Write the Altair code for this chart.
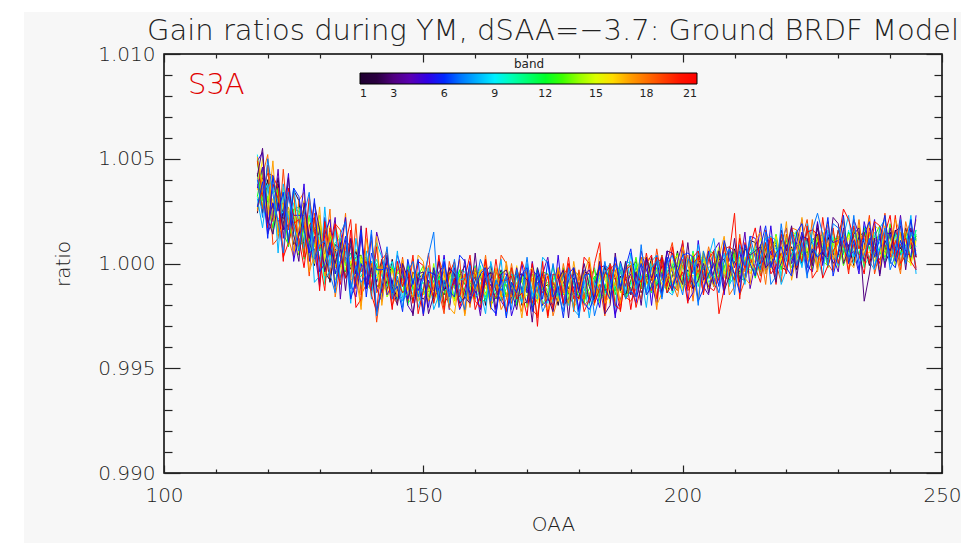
import altair as alt
import pandas as pd

# ---------------- data ----------------
title_text = ["Gain ratios during YM, dSAA=\u22123.7: Ground BRDF Model"]
sat_label = ["S3A"]

oaa = [118, 119, 120, 121, 122, 123, 124, 125, 126, 127, 128, 129, 130, 131, 132, 133,
       134, 135, 136, 137, 138, 139, 140, 141, 142, 143, 144, 145, 146, 147, 148, 149,
       150, 151, 152, 153, 154, 155, 156, 157, 158, 159, 160, 161, 162, 163, 164, 165,
       166, 167, 168, 169, 170, 171, 172, 173, 174, 175, 176, 177, 178, 179, 180, 181,
       182, 183, 184, 185, 186, 187, 188, 189, 190, 191, 192, 193, 194, 195, 196, 197,
       198, 199, 200, 201, 202, 203, 204, 205, 206, 207, 208, 209, 210, 211, 212, 213,
       214, 215, 216, 217, 218, 219, 220, 221, 222, 223, 224, 225, 226, 227, 228, 229,
       230, 231, 232, 233, 234, 235, 236, 237, 238, 239, 240, 241, 242, 243, 244, 245]

# gain ratio per band, given as (ratio - 1) in units of 1e-4
b01 = [43,24,40,26,41,19,25,9, 13,27,11,-1,18,9,-9,9, 7,-7,-2,6,-4,2,-1,-11, -10,-13,2,-13,-7,-5,-18,-7,
       -5,-11,-17,-6,-8,-21,-4,-10, -13,-18,-8,-5,-20,-4,-11,-3, -11,-15,-4,-20,-18,-2,-14,-5, -16,-9,-20,-5,-12,-7,-17,-4,
       -5,-11,-14,-1,-15,-12,-6,-15, -8,-2,-14,-9,3,-11,-1,-4, -2,-1,-8,-6,-12,4,-3,5, -11,2,2,-6,7,-2,-3,11,
       10,-2,3,7,10,-2,-3,8, -3,8,5,11,14,0,13,4, 16,5,9,-1,13,15,7,4, 2,6,15,8,4,17,7,13]
b02 = [24,41,37,21,38,22,17,35, 30,8,12,16,17,-4,-8,7, -7,3,-1,3,4,-11,1,-9, 2,-10,-8,-18,-5,-3,-12,-15,
       -17,-13,-4,-11,-15,-2,-12,-6, -1,-12,-6,-16,-14,-10,-17,-5, -16,-11,-6,-5,-7,-21,-17,-12, -10,-17,-3,-9,-14,-20,-6,-12,
       -17,-8,-1,-14,-9,-7,-13,-16, -2,1,-12,-6,-8,-6,4,-14, -6,6,-10,-3,-11,0,4,-7, 0,7,-6,-8,1,-4,9,-1,
       -5,9,3,12,8,0,7,4, 10,0,12,5,17,4,9,0, 4,15,7,1,15,10,-1,12, 13,0,6,16,7,14,12,3]
b03 = [42,55,21,14,29,16,41,14, 1,29,12,29,16,-4,8,0, 10,-13,12,-5,18,-12,-2,-23, -12,4,-11,-20,0,-7,-25,-5,
       -4,-24,-15,1,-13,-2,-5,-19, -16,-19,5,-18,-7,-4,-22,-5, -3,-13,-22,-5,-8,-28,-2,-11, -16,-23,-8,-3,-26,-2,-13,0,
       -11,-17,1,-24,-20,5,-13,1, -15,-4,-20,3,-7,1,-14,6, 5,-4,-10,10,-12,-8,0,-14, -4,6,-13,-6,12,-9,7,4,
       6,8,-2,1,-9,16,6,18, -7,13,12,-1,19,5,2,22, 19,0,7,14,17,-18,-5,12, -6,11,6,15,18,-3,17,3]
b04 = [36,46,14,22,45,12,32,23, 23,23,5,7,-11,22,6,22, -17,11,8,-12,13,-7,-13,15, 5,-15,-10,-3,-1,-20,-24,-7,
       -25,-8,-13,-4,-1,-22,-2,-16, 2,-15,-10,-25,-4,-1,-13,-18, -22,-16,-2,-13,-19,1,-14,-5, 3,-14,-5,-20,-17,-11,-22,-3,
       -19,-11,-2,-1,-3,-24,-17,-10, -5,-16,6,-3,-10,-19,3,-7, -13,1,10,-10,-3,0,-11,-15, 6,10,-10,-1,-5,-2,15,-12,
       0,18,-5,6,-7,10,17,0, 10,21,-1,-4,10,2,20,3, -4,17,7,21,14,1,11,6, 14,-2,17,6,23,3,11,-3]
b05 = [49,53,19,29,20,23,43,1, 15,38,1,13,-9,14,21,-5, 7,22,-10,-16,0,-12,14,-12, -18,2,-10,4,-4,-17,-8,-13,
       -5,-21,-2,-13,4,-16,-8,-22, -16,1,-13,-22,-1,-8,-25,-5, -5,-25,-16,0,-14,-3,-6,-20, -17,-20,4,-19,-8,-5,-23,-6,
       -3,-13,-21,-4,-6,-26,1,-8, -12,-19,-3,2,-20,4,-7,6, -4,-10,7,-18,-14,11,-8,6, -10,1,-15,8,-2,6,-8,13,
       12,3,-2,18,-4,0,9,-5, 5,15,-5,2,20,-1,14,10, 11,13,3,6,-5,20,9,21, -5,15,14,1,20,6,3,23]
b06 = [27,39,12,42,25,34,10,36, 32,16,5,31,-4,0,10,-11, 1,13,-17,-8,16,-16,5,-3, -3,-2,-14,-11,-23,2,-10,2,
       -24,-4,-5,-18,1,-13,-16,4, 1,-18,-12,-5,-2,-21,-24,-7, -26,-9,-14,-5,-2,-23,-3,-17, 1,-16,-11,-26,-5,-2,-14,-19,
       -22,-16,-1,-12,-17,3,-11,-2, 7,-10,0,-15,-11,-5,-16,3, -12,-4,4,5,3,-18,-12,-5, 0,-11,11,2,-5,-14,9,0,
       -6,8,18,-2,5,8,-2,-6, 15,19,-2,7,3,6,22,-6, 5,23,0,11,-3,14,20,3, 12,23,1,-2,11,3,21,4]
b07 = [40,22,50,33,20,5,34,19, 6,23,34,2,9,11,-5,-14, 14,20,-12,-1,-9,-5,16,-25, -9,8,-17,-6,-21,-4,1,-16,
       -7,4,15,-21,-8,-16,2,-15, -22,-1,-12,2,-5,-18,-8,-13, -6,-22,-3,-14,3,-17,-9,-23, -17,0,-14,-23,-2,-9,-26,-6,
       -5,-25,-15,1,-12,-1,-3,-17, -13,-16,9,-14,-2,1,-17,0, 4,-6,-15,2,0,-20,6,-3, -7,-14,2,7,-15,9,-1,13,
       3,-3,15,-10,-6,19,1,15, -1,10,-7,16,24,14,-1,19, 17,8,3,23,0,4,12,-2, 7,17,-3,4,21,0,15,11]
b08 = [31,17,36,40,5,38,21,36, 19,7,29,-9,-6,27,-1,17, -8,6,-19,12,-4,6,-17,10, 3,-7,-14,6,-18,-14,-7,-21,
       -12,-2,-22,-15,2,-19,-4,-8, -7,-5,-16,-13,-24,1,-10,2, -25,-5,-6,-19,0,-14,-17,3, 0,-19,-13,-6,-3,-22,-25,-8,
       -26,-9,-13,-4,0,-21,0,-14, 5,-12,-6,-21,1,4,-8,-13, -15,-9,5,-6,-11,9,-6,3, 12,-5,5,-10,-6,0,-10,10,
       -5,3,12,13,11,-10,-3,4, 9,-2,19,10,3,-6,16,6, -1,13,23,3,9,12,1,-3, 17,21,0,9,4,7,23,-5]
b09 = [52,32,38,20,21,25,12,29, 11,16,22,20,15,-8,-3,2, 4,-4,9,1,-5,-12,1,-6, -12,-4,1,-12,-9,-7,-15,-18,
       -5,-2,-16,-10,-13,-11,-1,-19, -12,0,-16,-9,-18,-7,-3,-14, -9,-2,-16,-18,-10,-15,-3,-14, -19,-5,-12,-3,-8,-16,-10,-13,
       -8,-18,-5,-12,0,-13,-7,-16, -11,0,-8,-14,1,-4,-15,-2, 0,-13,-7,3,-5,2,0,-9, -6,-8,9,-6,2,4,-7,5,
       8,2,-3,8,7,-6,12,6, 4,-1,9,12,-2,14,7,15, 8,4,16,0,2,18,6,15, 4,11,0,15,8,13,3,16]
b10 = [32,26,47,21,30,31,11,26, 27,14,3,17,12,-10,15,4, 0,-6,3,4,-12,3,-5,2, -6,-11,-1,-17,-16,0,-13,-4,
       -15,-8,-19,-4,-11,-6,-16,-3, -4,-10,-14,-1,-16,-13,-8,-17, -12,-6,-19,-14,-3,-17,-7,-10, -9,-8,-15,-13,-20,-4,-11,-3,
       -20,-7,-7,-15,-2,-11,-12,1, 0,-12,-7,-3,0,-12,-14,-3, -14,-3,-6,0,3,-11,2,-7, 6,-5,-1,-11,4,6,-1,-3,
       -4,0,10,3,0,13,4,10, 16,5,11,1,4,8,1,13, 3,8,14,15,13,-1,3,8, 10,3,17,11,6,0,14,8]
b11 = [50,30,32,14,33,34,20,13, 8,11,23,9,1,19,3,10, 12,0,5,-7,-6,-3,-11,0, -11,-7,-3,-2,-5,-19,-16,-11,
       -9,-16,-2,-8,-13,-19,-5,-11, -16,-7,-1,-14,-10,-8,-15,-18, -6,-3,-17,-11,-14,-12,-2,-20, -13,-1,-17,-10,-19,-8,-4,-15,
       -9,-2,-15,-17,-8,-13,0,-11, -15,-1,-7,2,-2,-10,-4,-7, -1,-11,1,-6,6,-7,-2,-11, -6,5,-3,-9,6,1,-9,5,
       7,-6,1,11,3,10,9,0, 3,1,17,2,10,12,0,11, 13,7,2,13,11,-2,15,9, 6,1,11,14,-1,15,8,16]
b12 = [32,46,29,17,36,27,8,26, 25,2,9,22,6,15,11,-5, -1,-4,11,-6,0,1,-12,-2, -1,-8,-15,-4,-7,-20,-4,-10,
       -13,-18,-8,-5,-20,-4,-11,-3, -10,-14,-3,-19,-17,-1,-13,-4, -16,-9,-20,-5,-12,-7,-17,-4, -5,-11,-15,-2,-17,-14,-9,-18,
       -12,-6,-18,-13,-1,-15,-4,-7, -5,-4,-10,-8,-14,2,-5,3, -13,0,-1,-9,4,-5,-7,6, 5,-7,-2,2,5,-7,-8,4,
       -7,4,2,8,11,-3,11,2, 15,4,7,-3,12,14,6,3, 1,5,15,8,4,17,7,13, 18,7,13,3,5,9,2,14]
b13 = [49,27,30,34,35,14,9,24, 4,18,11,17,18,-5,14,-2, 11,-1,1,-11,2,3,-6,-10, -13,-10,-2,-9,-14,-1,-12,-6,
       -1,-12,-6,-16,-14,-10,-17,-5, -15,-10,-5,-4,-6,-20,-16,-11, -10,-17,-3,-9,-14,-20,-6,-12, -17,-8,-2,-15,-11,-9,-16,-19,
       -6,-3,-16,-10,-12,-10,1,-17, -9,3,-12,-5,-13,-2,2,-9, -2,5,-9,-11,-2,-7,5,-6, -10,4,-2,7,3,-5,2,0,
       6,-4,9,2,14,1,7,-2, 3,14,5,-1,14,9,-2,11, 12,-1,6,16,7,14,12,3, 5,3,19,4,11,13,1,12]
b14 = [26,44,30,41,32,17,25,18, 24,5,22,8,23,1,8,-8, -1,9,-1,-9,4,-2,-14,-2, -2,-16,-11,-1,-11,-4,-7,-16,
       -14,-16,0,-15,-8,-6,-18,-7, -5,-11,-17,-6,-8,-21,-4,-10, -14,-19,-9,-6,-21,-5,-12,-4, -11,-15,-4,-20,-18,-2,-14,-5,
       -16,-9,-19,-4,-10,-5,-14,-1, -1,-7,-10,3,-11,-8,-3,-12, -5,1,-12,-7,5,-9,1,-2, 0,1,-5,-3,-9,7,1,10,
       -6,7,7,-1,12,3,2,15, 14,2,6,10,13,1,-1,10, -2,9,7,13,15,1,14,5, 17,6,9,-1,13,15,7,4]
b15 = [41,40,26,26,13,36,23,33, 5,22,19,3,20,4,0,18, 10,-3,0,2,3,-10,-13,-3, -16,-6,-10,-4,-3,-17,-5,-14,
       -2,-13,-10,-20,-6,-4,-12,-15, -17,-13,-4,-11,-15,-2,-12,-6, -2,-13,-7,-17,-15,-11,-18,-6, -16,-11,-6,-5,-7,-21,-17,-12,
       -10,-17,-2,-8,-12,-18,-3,-9, -13,-4,3,-10,-5,-3,-10,-13, 1,4,-10,-4,-6,-4,6,-12, -4,8,-7,0,-8,3,8,-2,
       5,12,-1,-3,6,1,14,3, -1,13,6,15,11,3,9,6, 11,1,14,7,18,5,10,1, 5,16,7,1,15,10,-1,12]
b16 = [35,50,23,31,15,30,34,15, 22,30,6,0,11,1,18,-1, -5,8,0,7,1,-8,-3,-7, -3,-14,-3,-10,0,-13,-9,-18,
       -14,-3,-12,-18,-4,-9,-20,-7, -6,-19,-13,-3,-12,-5,-7,-16, -15,-17,-1,-16,-9,-7,-19,-8, -6,-12,-18,-7,-9,-22,-5,-11,
       -14,-19,-8,-5,-19,-3,-9,-1, -7,-11,1,-15,-12,4,-8,1, -9,-2,-13,2,-4,1,-9,4, 4,-2,-5,8,-6,-3,3,-5,
       2,8,-4,1,13,-1,10,7, 9,10,3,5,-1,15,8,16, -1,12,12,4,16,7,5,18, 16,4,8,12,14,2,0,11]
b17 = [51,35,23,49,14,18,27,6, 17,27,-4,4,27,-6,15,6, 7,9,-8,-5,-22,12,-4,13, -20,-1,-3,-16,2,-12,-16,4,
       1,-18,-12,-5,-2,-21,-24,-7, -25,-8,-13,-4,-1,-22,-2,-16, 1,-16,-11,-26,-5,-2,-14,-19, -22,-16,-2,-13,-19,1,-14,-5,
       3,-14,-4,-19,-15,-9,-19,0, -15,-7,2,3,1,-20,-14,-7, -2,-13,8,-1,-8,-17,5,-5, -11,3,13,-7,0,3,-7,-10,
       11,15,-5,4,0,3,20,-8, 4,22,-2,9,-4,13,19,2, 11,22,1,-2,11,3,21,4, -3,18,7,21,14,1,11,6]
b18 = [25,42,52,20,27,29,12,3, 30,34,1,11,2,5,26,-16, -1,24,-12,1,-20,4,11,-14, -3,7,-16,-19,-7,-15,2,-15,
       -22,-1,-12,2,-5,-18,-8,-13, -5,-21,-2,-13,4,-16,-8,-22, -17,0,-14,-23,-2,-9,-26,-6, -5,-25,-16,0,-14,-3,-6,-20,
       -17,-20,5,-18,-6,-3,-20,-3, 1,-9,-17,0,-2,-22,4,-5, -9,-16,-1,4,-18,6,-5,8, -2,-8,10,-15,-11,14,-4,11,
       -5,6,-10,13,3,11,-3,17, 16,7,1,21,-1,3,11,-3, 6,16,-3,4,21,0,15,11, 12,14,3,6,-5,20,9,21]
b19 = [38,26,47,9,12,45,16,34, 8,20,-6,24,7,16,-7,19, 16,2,-8,19,-15,-10,0,-28, -8,1,-20,-13,3,-18,-4,-8,
       -7,-5,-16,-13,-24,1,-10,2, -24,-4,-5,-18,1,-13,-16,4, 0,-19,-13,-6,-3,-22,-25,-8, -26,-9,-14,-5,-2,-23,-3,-17,
       1,-16,-10,-25,-3,0,-11,-16, -18,-12,3,-8,-13,7,-8,1, 10,-7,2,-13,-9,-3,-14,5, -10,-2,7,8,6,-15,-8,0,
       5,-6,16,7,0,-9,14,4, -2,12,21,1,8,11,0,-4, 16,20,0,9,4,7,23,-5, 6,24,0,11,-3,14,20,3]
b20 = [27,35,43,42,36,3,10,19, 21,3,32,15,2,-13,17,2, -10,9,21,-10,-2,1,-15,-23, 2,5,-17,-8,-14,-11,4,-24,
       -13,5,-19,-8,-22,-5,1,-16, -7,4,-18,-21,-8,-16,2,-15, -23,-2,-13,1,-6,-19,-9,-14, -6,-22,-3,-14,3,-17,-9,-23,
       -17,0,10,-22,0,-7,-23,-3, -1,-21,-11,5,-8,3,0,-14, -10,-13,11,-12,0,3,-15,2, 6,-24,-12,5,24,-17,10,2,
       -2,-9,7,12,-10,14,4,17, 7,1,18,-7,-3,22,3,17, 0,11,-5,18,7,15,0,20, 18,9,3,23,0,4,12,-2]
b21 = [49,33,17,38,31,1,36,21, 12,-2,18,22,-13,20,4,19, 3,-7,16,-21,-17,17,-11,8, -14,-4,-22,1,-11,-3,-19,1,
       -1,-10,-16,4,-19,-15,-7,-21, -12,-2,-22,-15,2,-19,-4,-8, -8,-6,-17,-14,-25,0,-30,1, -25,-5,-6,-19,0,-14,-17,3,
       0,-19,-12,-5,-1,-20,-22,-5, -22,-5,-9,0,4,-17,3,-11, 8,-9,-4,-19,3,6,-6,-11, -13,-7,8,-3,-8,12,-2,8,
       17,0,10,-5,-1,5,-5,14, -1,7,15,16,14,-7,-1,6, 10,26,21,12,4,-5,17,7, 0,14,23,3,9,12,1,-3]

series = {1: b01, 2: b02, 3: b03, 4: b04, 5: b05, 6: b06, 7: b07, 8: b08, 9: b09, 10: b10,
          11: b11, 12: b12, 13: b13, 14: b14, 15: b15, 16: b16, 17: b17, 18: b18, 19: b19,
          20: b20, 21: b21}

bands = list(range(1, 22))
band_colors = ["#000000", "#2a0040", "#500080", "#5a00b4", "#3000e6", "#0028ff", "#0078ff",
               "#00b4ff", "#00f0ff", "#00ffb4", "#00ff6e", "#00ff28", "#3cff00", "#96ff00",
               "#dcff00", "#ffdc00", "#ffa000", "#ff7000", "#ff4000", "#ff1400", "#ff0000"]
legend_ticks = [1, 3, 6, 9, 12, 15, 18, 21]

# drawing order (last one ends up on top)
draw_order = [1, 2, 9, 10, 11, 12, 13, 14, 15, 16, 18, 19, 4, 5, 8, 20, 21, 17, 3, 6, 7]

x_major = [100, 150, 200, 250]
x_minor = [110, 120, 130, 140, 160, 170, 180, 190, 210, 220, 230, 240]
y_major = [0.990, 0.995, 1.000, 1.005, 1.010]
y_minor = [0.991, 0.992, 0.993, 0.994, 0.996, 0.997, 0.998, 0.999,
           1.001, 1.002, 1.003, 1.004, 1.006, 1.007, 1.008, 1.009]

rows = []
for b in draw_order:
    vals = series[b]
    assert len(vals) == len(oaa), (b, len(vals))
    for x, v in zip(oaa, vals):
        rows.append({"OAA": x, "ratio": 1 + v / 10000.0, "band": b})
df = pd.DataFrame(rows)

# ---------------- chart ----------------
W, H = 778, 419
FONT = "DejaVu Sans"
FW = 200
TXT = "#222222"

xscale = alt.Scale(domain=[100, 250], nice=False, zero=False)
yscale = alt.Scale(domain=[0.990, 1.010], nice=False, zero=False)


def tick_axis(orient, values, size):
    return alt.Axis(orient=orient, values=values, offset=-size, tickSize=size, domain=False,
                    grid=False, labels=False, title="", tickColor="#222222", tickWidth=1.2,
                    zindex=1)


lines = alt.Chart(df).mark_line(strokeWidth=1, clip=True).encode(
    x=alt.X("OAA:Q", scale=xscale,
            axis=alt.Axis(orient="bottom", values=x_major, offset=-8, tickSize=8, domain=False,
                          grid=False, labelPadding=12, labelFlush=False, title="OAA",
                          titlePadding=9, format="d", tickColor="#222222", tickWidth=1.2,
                          zindex=1)),
    y=alt.Y("ratio:Q", scale=yscale,
            axis=alt.Axis(orient="left", values=y_major, offset=-16, tickSize=16, domain=False,
                          grid=False, labelPadding=9, labelFlush=False, format=".3f",
                          title="ratio", titlePadding=24, tickColor="#222222", tickWidth=1.2,
                          zindex=1)),
    color=alt.Color("band:Q", scale=alt.Scale(domain=bands, range=band_colors),
                    legend=alt.Legend(title="band", orient="none", legendX=196, legendY=5,
                                      direction="horizontal", gradientLength=337,
                                      gradientThickness=11, values=legend_ticks,
                                      titleAnchor="middle", titleFontSize=12,
                                      titleFontWeight="normal", labelFontSize=11,
                                      gradientStrokeColor="#000000", gradientStrokeWidth=1,
                                      labelOffset=4, titlePadding=2, padding=0, format="d")),
    detail="band:N",
)

base = alt.Chart(df).transform_filter("datum.band == 1").mark_line(opacity=0)
ax2 = base.encode(x=alt.X("OAA:Q", scale=xscale, axis=tick_axis("bottom", x_minor, 4)),
                  y=alt.Y("ratio:Q", scale=yscale, axis=tick_axis("left", y_minor, 8)))
ax3 = base.encode(x=alt.X("OAA:Q", scale=xscale, axis=tick_axis("top", x_major, 8)),
                  y=alt.Y("ratio:Q", scale=yscale, axis=tick_axis("right", y_major, 16)))
ax4 = base.encode(x=alt.X("OAA:Q", scale=xscale, axis=tick_axis("top", x_minor, 4)),
                  y=alt.Y("ratio:Q", scale=yscale, axis=tick_axis("right", y_minor, 8)))

label = alt.Chart(pd.DataFrame({"sat": sat_label})).mark_text(
    align="left", baseline="alphabetic", fontSize=29, font=FONT, fontWeight=FW, color="#e00000"
).encode(text="sat:N", x=alt.value(24), y=alt.value(40))

title = alt.Chart(pd.DataFrame({"t": title_text})).mark_text(
    align="center", baseline="alphabetic", fontSize=29, font=FONT, fontWeight=FW, color=TXT
).encode(text="t:N", x=alt.value(389), y=alt.value(-14.5))

one = pd.DataFrame({"k": [0]})
margin_left = alt.Chart(one).mark_rect(color="#ffffff").encode(
    x=alt.value(-164), x2=alt.value(-140), y=alt.value(-54), y2=alt.value(489))
margin_top = alt.Chart(one).mark_rect(color="#ffffff").encode(
    x=alt.value(-164), x2=alt.value(797), y=alt.value(-54), y2=alt.value(-42))

chart = alt.layer(margin_left, margin_top, lines, ax2, ax3, ax4, label, title).resolve_scale(
    x="shared", y="shared"
).resolve_axis(
    x="independent", y="independent"
).properties(
    width=W, height=H,
    autosize=alt.AutoSizeParams(type="none"),
    padding={"left": 164, "top": 54, "right": 19, "bottom": 70},
).configure(
    background="#f7f7f7",
).configure_view(
    stroke="#000000", strokeWidth=1.5,
).configure_axis(
    labelFont=FONT, labelFontSize=20, labelFontWeight=FW, labelColor=TXT,
    titleFont=FONT, titleFontSize=20, titleFontWeight=FW, titleColor=TXT,
).configure_legend(
    labelFont=FONT, titleFont=FONT, labelColor=TXT, titleColor=TXT,
)

chart.save("out.html", embed_options={"renderer": "svg", "actions": False})
